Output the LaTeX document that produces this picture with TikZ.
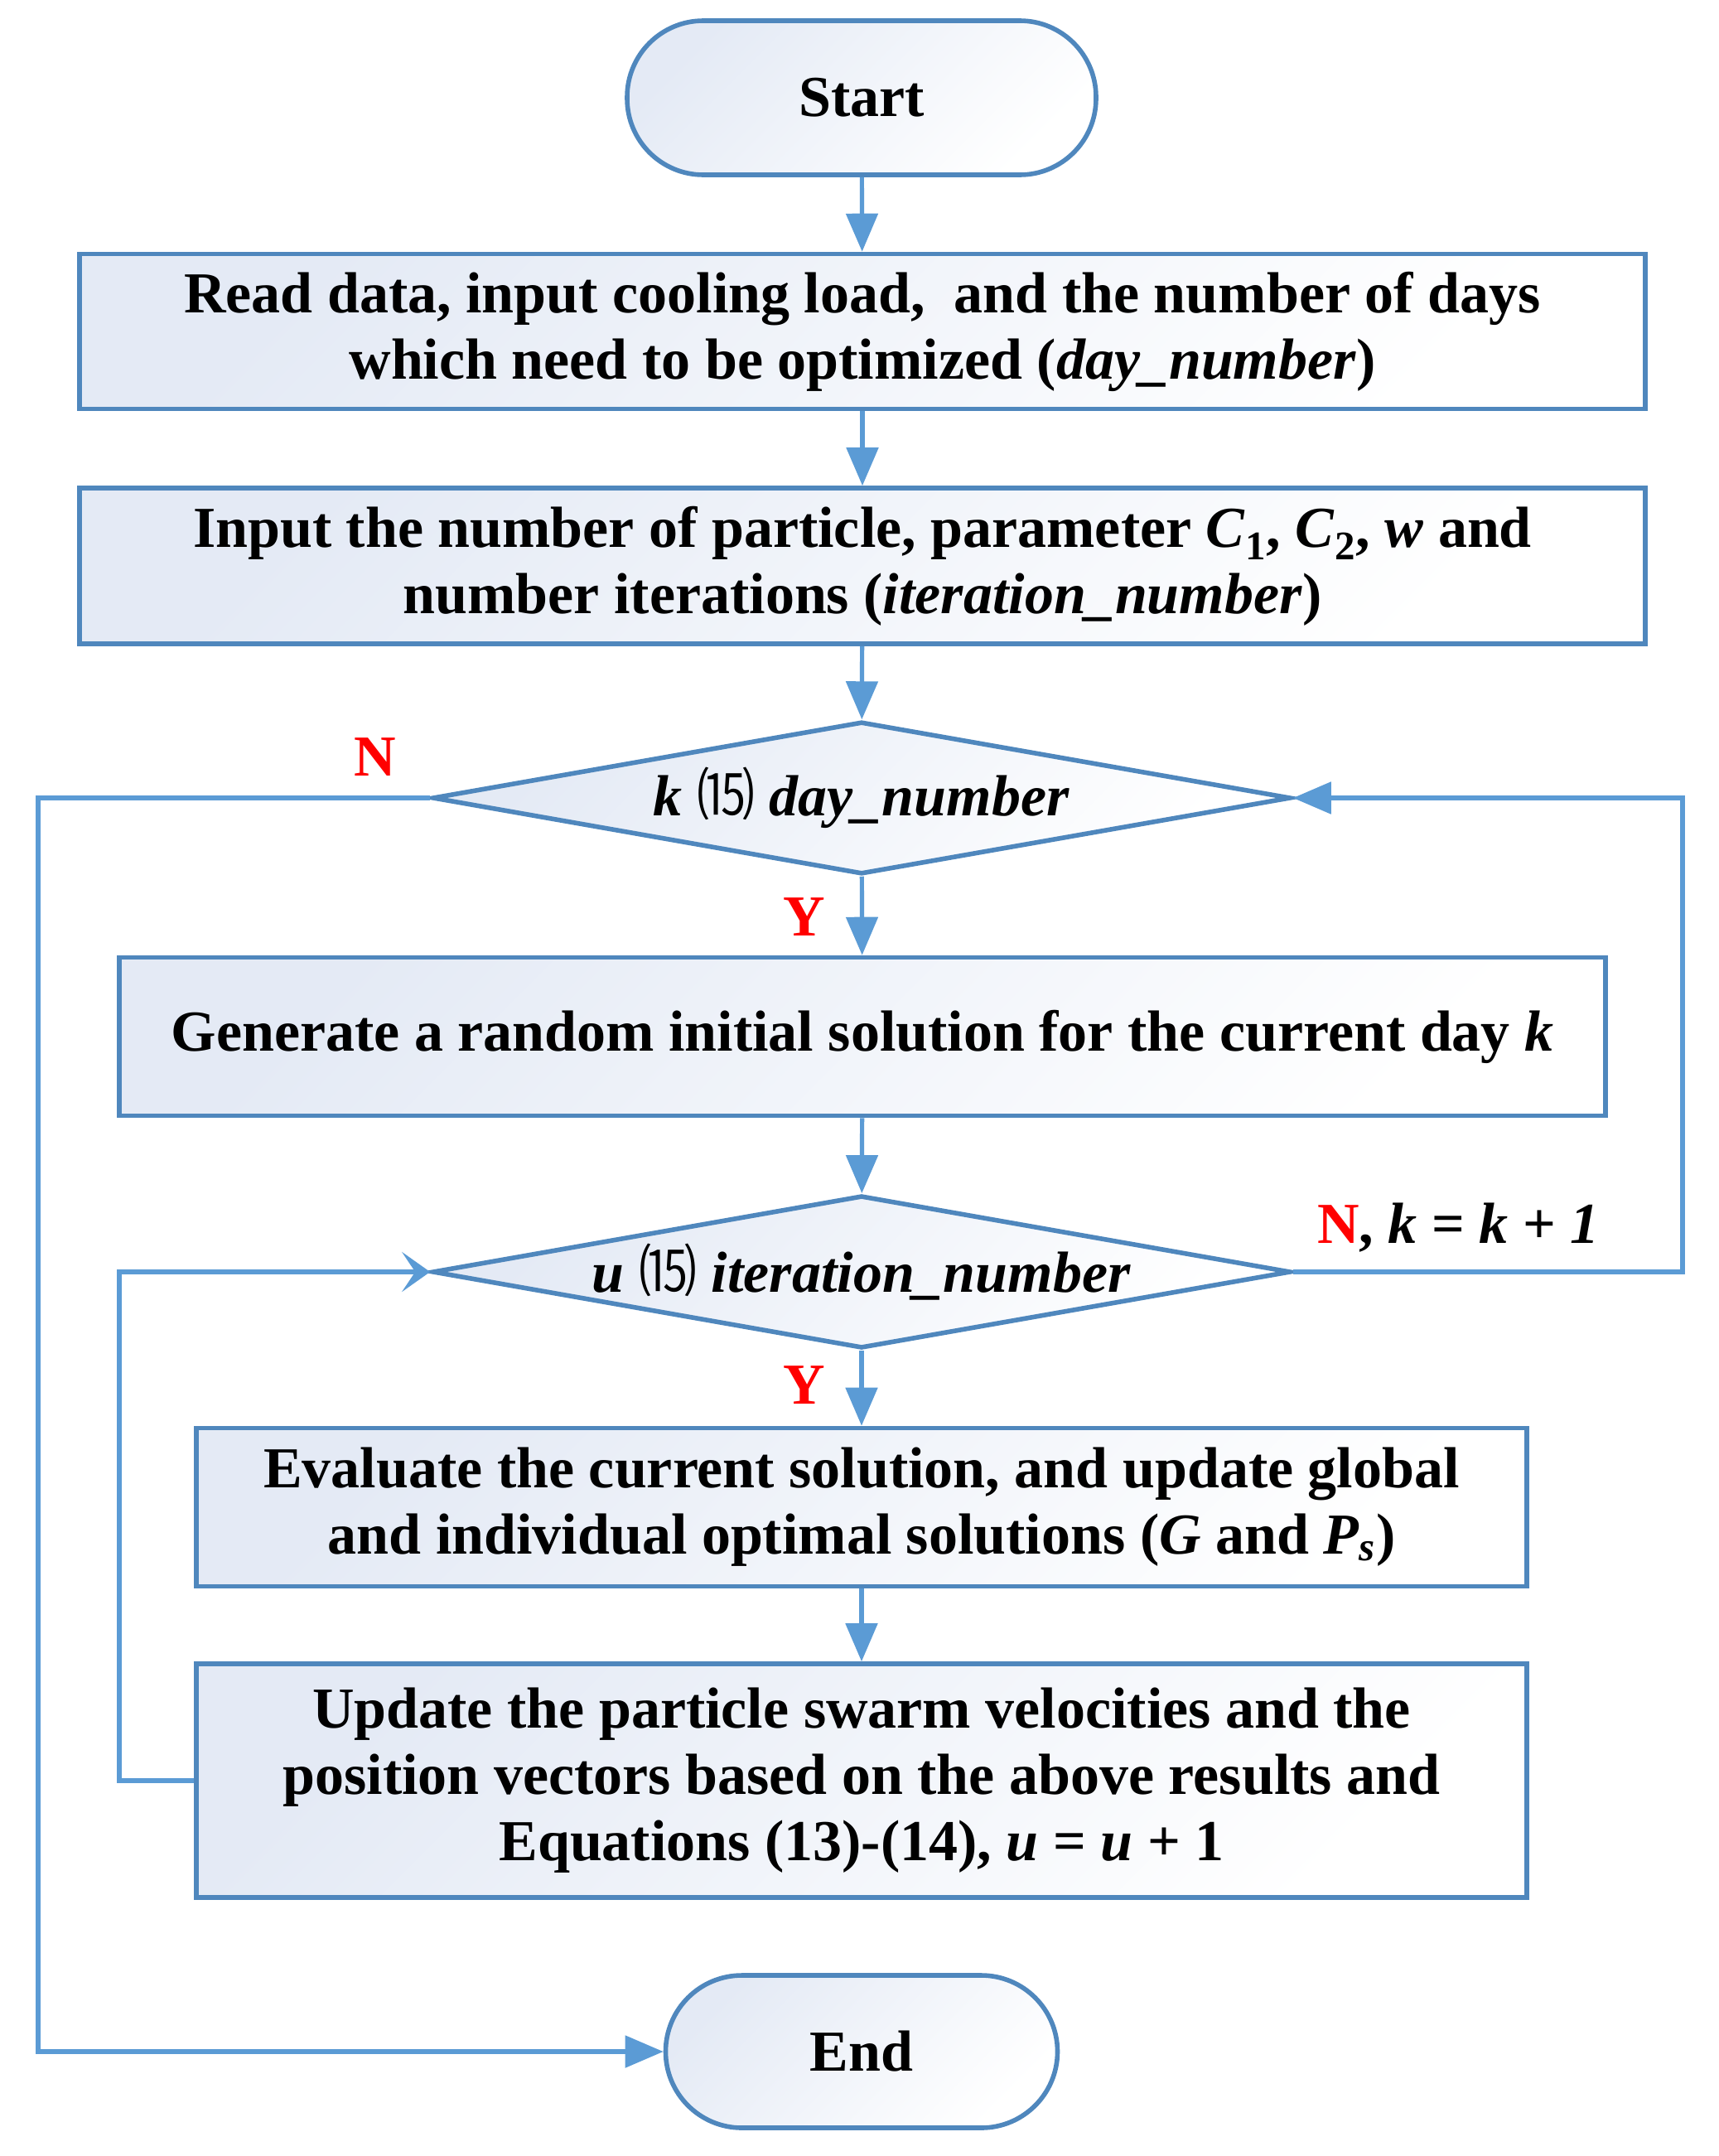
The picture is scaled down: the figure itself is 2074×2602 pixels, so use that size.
\documentclass[tikz,border=0pt]{standalone}
\usepackage{fontspec}
\setmainfont{Liberation Serif}
\newfontfamily\cjk{Noto Sans CJK SC}
\usetikzlibrary{arrows.meta,shapes.geometric}
\definecolor{lineblue}{HTML}{5B9BD5}
\definecolor{borderblue}{HTML}{4F87BD}
\definecolor{fillblue}{HTML}{E4EAF5}
\definecolor{labred}{HTML}{FF0000}
\newcommand{\leqsym}{{\cjk\mdseries\upshape ⒂}}
\begin{document}
\begin{tikzpicture}[x=0.5pt,y=-0.5pt,
  txt/.style={font=\fontsize{35}{40}\selectfont\bfseries, align=center, inner sep=0pt},
  fillshade/.style={top color=fillblue, bottom color=white, shading angle=45},
  procbox/.style={txt, draw=borderblue, line width=2.8pt, fillshade, rectangle},
  termbox/.style={txt, draw=borderblue, line width=2.8pt, fillshade, rectangle, rounded corners=46pt},
  decbox/.style={txt, draw=borderblue, line width=2.8pt, fillshade, diamond, shape aspect=5.6,
     minimum width=518pt, minimum height=92pt},
  conn/.style={draw=lineblue, line width=2.6pt},
  arr/.style={conn, -{Triangle[length=23pt,width=19pt]}},
  sarr/.style={conn, -{Stealth[length=17pt,width=24pt,inset=8pt]}},
  lab/.style={font=\fontsize{35}{40}\selectfont\bfseries, text=labred, inner sep=0pt}
]
\useasboundingbox (0,0) rectangle (2074,2602);

\node[termbox, minimum width=283pt, minimum height=93pt] (start) at (1040,118) {Start};
\node[procbox, minimum width=945pt, minimum height=93.5pt] (box1) at (1041,400)
  {Read data, input cooling load,\ \ and the number of days\\ which need to be optimized (\textit{day\_number})};
\node[procbox, minimum width=945pt, minimum height=94pt] (box2) at (1041,683)
  {Input the number of particle, parameter \textit{C}\textsubscript{1}, \textit{C}\textsubscript{2}, \textit{w} and\\ number iterations (\textit{iteration\_number})};
\node[decbox] (dia1) at (1040,963) {\textit{k} \leqsym{} \textit{day\_number}};
\node[procbox, minimum width=897pt, minimum height=95.5pt] (box3) at (1041,1251)
  {Generate a random initial solution for the current day \textit{k}};
\node[decbox] (dia2) at (1040,1535) {\textit{u} \leqsym{} \textit{iteration\_number}};
\node[procbox, minimum width=803pt, minimum height=95.5pt] (box4) at (1040,1819)
  {Evaluate the current solution, and update global\\ and individual optimal solutions (\textit{G} and \textit{P}\textsubscript{\textit{s}})};
\node[procbox, minimum width=803pt, minimum height=141pt] (box5) at (1040,2149)
  {Update the particle swarm velocities and the\\ position vectors based on the above results and\\ Equations (13)-(14), \textit{u} = \textit{u} + 1};
\node[termbox, minimum width=236.5pt, minimum height=92pt] (end) at (1040,2476) {End};

\draw[arr] (start) -- (box1);
\draw[arr] (box1) -- (box2);
\draw[arr] (box2) -- (dia1);
\draw[arr] (dia1) -- (box3);
\draw[arr] (box3) -- (dia2);
\draw[arr] (dia2) -- (box4);
\draw[arr] (box4) -- (box5);

\coordinate (nl1) at (46,963);
\coordinate (nl2) at (46,2476);
\draw[arr] (dia1.west) -- (nl1) -- (nl2) -- (end.west);

\coordinate (nr1) at (2031,1535);
\coordinate (nr2) at (2031,963);
\draw[arr] (dia2.east) -- (nr1) -- (nr2) -- (dia1.east);

\coordinate (ul1) at (144,2149);
\coordinate (ul2) at (144,1535);
\draw[sarr] (box5.west) -- (ul1) -- (ul2) -- (dia2.west);

\node[lab] (labN1) at (453,914) {N};
\node[lab] (labY1) at (971,1107) {Y};
\node[lab] (labY2) at (971,1672) {Y};
\node[lab, anchor=west] (labN2) at (1590,1482) {N\textcolor{black}{, \textit{k} = \textit{k} + \textit{1}}};
\end{tikzpicture}
\end{document}
